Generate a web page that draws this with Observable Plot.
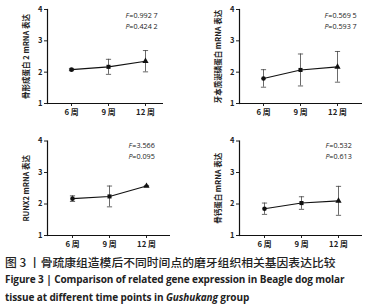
<!DOCTYPE html>
<html><head><meta charset="utf-8">
<script src="https://cdn.jsdelivr.net/npm/d3@7"></script>
<script src="https://cdn.jsdelivr.net/npm/@observablehq/plot@0.6"></script>
<style>
html,body{margin:0;padding:0;background:#fff;}
#wrap{position:relative;width:374px;height:308px;overflow:hidden;}
.p{position:absolute;}
.cap{position:absolute;left:5px;white-space:nowrap;color:#222;}
</style></head>
<body><div id="wrap"></div>
<script>
const weeks = ["6 周", "9 周", "12 周"];
const bmp2Mean = [2.08, 2.17, 2.35];
const bmp2Sd = [0.03, 0.24, 0.34];
const dsppMean = [1.80, 2.07, 2.17];
const dsppSd = [0.28, 0.51, 0.49];
const runx2Mean = [2.17, 2.24, 2.57];
const runx2Sd = [0.09, 0.33, 0.02];
const ocnMean = [1.85, 2.03, 2.10];
const ocnSd = [0.18, 0.20, 0.46];
const yTicks = [1, 2, 3, 4];
const yLabels = ["骨形成蛋白 2 mRNA 表达", "牙本质涎磷蛋白 mRNA 表达", "RUNX2 mRNA 表达", "骨钙蛋白 mRNA 表达"];
const fValues = ["=0.992 7", "=0.569 5", "=3.566", "=0.532"];
const pValues = ["=0.424 2", "=0.593 7", "=0.095", "=0.613"];

const capSymbol = {draw(ctx, size){ const w = Math.sqrt(size/Math.PI); ctx.moveTo(-w,0); ctx.lineTo(w,0); }};

function rows(mean, sd){ return weeks.map((w,i)=>({week:w, mean:mean[i], sd:sd[i]})); }

function panel(cfg){
  const data = rows(cfg.mean, cfg.sd);
  return Plot.plot({
    width: 187, height: cfg.height,
    marginTop: cfg.mt, marginBottom: cfg.mb, marginLeft: cfg.ml, marginRight: cfg.mr,
    style: {fontFamily: "'Noto Sans CJK SC', 'Noto Sans', sans-serif", fontSize: "7.5px", color: "#222", background: "transparent", overflow: "visible"},
    x: {type: "point", domain: weeks, padding: 0, insetLeft: cfg.il, insetRight: cfg.ir},
    y: {domain: [1, 4]},
    symbol: {domain: weeks, range: ["circle", "square", "triangle"]},
    marks: [
      Plot.axisY({ticks: yTicks, tickSize: 3, tickPadding: 2, tickFormat: "d", fontWeight: "bold",
        label: cfg.label, labelAnchor: "center", labelArrow: "none", labelOffset: cfg.lo, fontSize: 7.5}),
      Plot.axisX({tickSize: 3, tickPadding: 2.5, label: null, fontWeight: "bold", fontSize: 7.8}),
      Plot.ruleY([1], {stroke: "#111", strokeWidth: 1.2}),
      Plot.frame({anchor: "left", stroke: "#111", strokeWidth: 1.2}),
      Plot.ruleX(data, {x: "week", y1: d => d.mean - d.sd, y2: d => d.mean + d.sd, stroke: "#444", strokeWidth: 0.8}),
      Plot.dot(data, {x: "week", y: d => d.mean - d.sd, symbol: capSymbol, r: 2.6, stroke: "#444", strokeWidth: 0.8}),
      Plot.dot(data, {x: "week", y: d => d.mean + d.sd, symbol: capSymbol, r: 2.6, stroke: "#444", strokeWidth: 0.8}),
      Plot.line(data, {x: "week", y: "mean", stroke: "#111", strokeWidth: 1.1}),
      Plot.dot(data, {x: "week", y: "mean", symbol: "week", fill: "#111", stroke: "none", r: 2.3}),
      Plot.text(["F"], {frameAnchor: "top-right", textAnchor: "start", dx: cfg.tx, dy: cfg.ty, fontStyle: "italic", fontSize: 7.2, fontFamily: "'Open Sans', sans-serif"}),
      Plot.text([cfg.f], {frameAnchor: "top-right", textAnchor: "start", dx: cfg.tx + 3.8, dy: cfg.ty, fontSize: 7.2, fontFamily: "'Open Sans', sans-serif"}),
      Plot.text(["P"], {frameAnchor: "top-right", textAnchor: "start", dx: cfg.tx, dy: cfg.ty + 11, fontStyle: "italic", fontSize: 7.2, fontFamily: "'Open Sans', sans-serif"}),
      Plot.text([cfg.p], {frameAnchor: "top-right", textAnchor: "start", dx: cfg.tx + 3.8, dy: cfg.ty + 11, fontSize: 7.2, fontFamily: "'Open Sans', sans-serif"})
    ]
  });
}

const wrap = document.getElementById("wrap");
const cfgs = [
  {left: 0, top: 0, height: 120, mt: 9, mb: 17, ml: 47, mr: 24, il: 24, ir: 18, lo: 24, tx: -38, ty: 3, mean: bmp2Mean, sd: bmp2Sd, label: yLabels[0], f: fValues[0], p: pValues[0]},
  {left: 187, top: 0, height: 120, mt: 9, mb: 17, ml: 52, mr: 12, il: 24, ir: 25, lo: 24, tx: -38, ty: 3, mean: dsppMean, sd: dsppSd, label: yLabels[1], f: fValues[1], p: pValues[1]},
  {left: 0, top: 120, height: 130, mt: 20.5, mb: 15, ml: 47, mr: 17, il: 24, ir: 24, lo: 24, tx: -42, ty: 1.5, mean: runx2Mean, sd: runx2Sd, label: yLabels[2], f: fValues[2], p: pValues[2]},
  {left: 187, top: 120, height: 130, mt: 20.5, mb: 15, ml: 52, mr: 12, il: 24, ir: 24, lo: 24, tx: -37, ty: 1.5, mean: ocnMean, sd: ocnSd, label: yLabels[3], f: fValues[3], p: pValues[3]}
];
for (const c of cfgs) {
  const el = panel(c);
  el.classList.add("p");
  el.style.left = c.left + "px";
  el.style.top = c.top + "px";
  wrap.appendChild(el);
}
const c1 = document.createElement("div");
c1.className = "cap";
c1.style.cssText += "top:255px;font:500 11.8px/14px 'Noto Sans CJK SC',sans-serif;";
c1.textContent = "图 3 丨骨疏康组造模后不同时间点的磨牙组织相关基因表达比较";
const c2 = document.createElement("div");
c2.className = "cap";
c2.style.cssText += "top:272px;font:bold 10px/14px 'Open Sans',sans-serif;letter-spacing:-0.1px;";
c2.textContent = "Figure 3  |  Comparison of related gene expression in Beagle dog molar";
const c3 = document.createElement("div");
c3.className = "cap";
c3.style.cssText += "top:290px;font:bold 10px/14px 'Open Sans',sans-serif;letter-spacing:-0.1px;";
c3.innerHTML = "tissue at different time points in <i>Gushukang</i> group";
wrap.append(c1, c2, c3);
</script></body></html>
